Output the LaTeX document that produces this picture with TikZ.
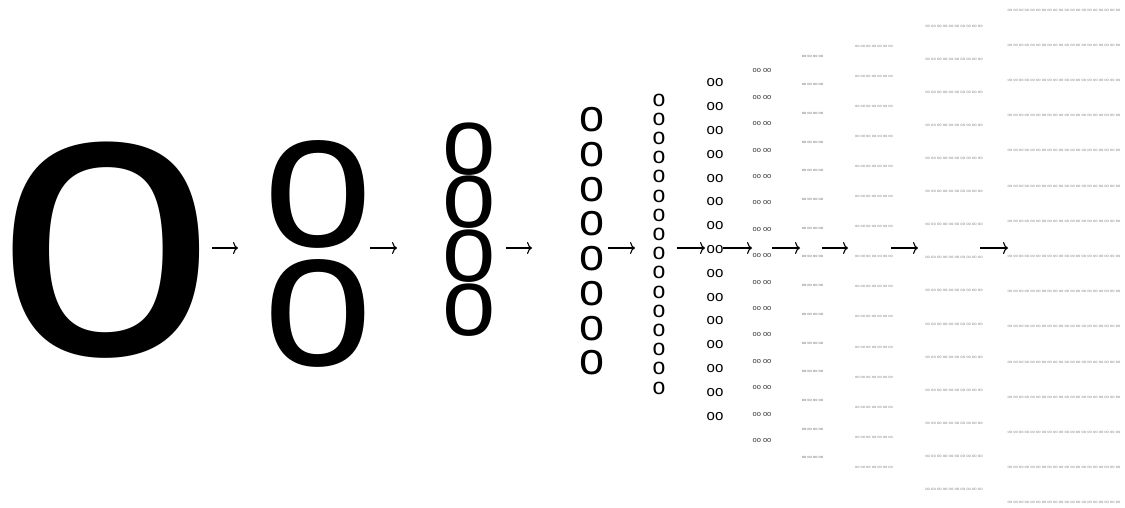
\documentclass[tikz,border=0pt]{standalone}
\usepackage{fontspec}
\setmainfont{Liberation Sans}
\usetikzlibrary{arrows.meta}
\begin{document}
\begin{tikzpicture}[x=1pt,y=-1pt,
  glyph/.style={inner sep=0pt, outer sep=0pt, anchor=center},
  sz/.style={font={\fontsize{#1}{#1}\selectfont}},
  faint/.style={text=black!#1},
  link/.style={line width=1.1pt, -{To[length=5pt,width=12pt]}}]
\useasboundingbox (0,0) rectangle (1125,507);

% column 1: a single large letter (box trimmed to the ink width)
\node[glyph, sz=395] (c1) at (106,250) {\makebox[0.49em]{o}};

% column 2
\foreach \i/\y in {1/194,2/313}
  \node[glyph, sz=197] (c2-\i) at (318.5,\y) {o};

% column 3
\foreach \i/\y in {1/149,2/202,3/256,4/310}
  \node[glyph, sz=96] (c3-\i) at (469,\y) {o};

% column 4
\foreach \i in {0,...,7}
  \node[glyph, sz=45] (c4-\i) at (592,{120+34.7*\i}) {o};

% column 5
\foreach \i in {0,...,15}
  \node[glyph, sz=23] (c5-\i) at (659,{100+19.2*\i}) {o};

% column 6
\foreach \i in {0,...,14}
  \node[glyph, sz=15] (c6-\i) at (715,{83+23.8*\i}) {oo};

% column 7
\foreach \i in {0,...,14}
  \node[glyph, sz=7.5, faint=80] (c7-\i) at (762,{71+26.4*\i}) {oo oo};

% column 8
\foreach \i in {0,...,14}
  \node[glyph, sz=4, faint=55] (c8-\i) at (812.5,{56+28.7*\i}) {oo oo oo oo};

% column 9
\foreach \i in {0,...,14}
  \node[glyph, sz=4, faint=45] (c9-\i) at (874,{46+30.1*\i}) {oo oo oo oo oo oo oo};

% column 10
\foreach \i in {0,...,14}
  \node[glyph, sz=4.2, faint=45] (c10-\i) at (954,{26+33.1*\i}) {oo oo oo oo oo oo oo oo oo oo};

% column 11
\foreach \i in {0,...,14}
  \node[glyph, sz=4.1, faint=45] (c11-\i) at (1064,{10+35.2*\i}) {oo oo oo oo oo oo oo oo oo oo oo oo oo oo oo oo oo oo oo oo};

% arrow end points between the columns
\foreach \k/\s/\e in {1/212/238, 2/370/397, 3/506/532, 4/608/635, 5/677/705,
                      6/723/752, 7/772/800, 8/822/848, 9/891/918, 10/980/1008} {
  \coordinate (s\k) at (\s,248);
  \coordinate (e\k) at (\e,248);
  \draw[link] (s\k) -- (e\k);
}
\end{tikzpicture}
\end{document}
